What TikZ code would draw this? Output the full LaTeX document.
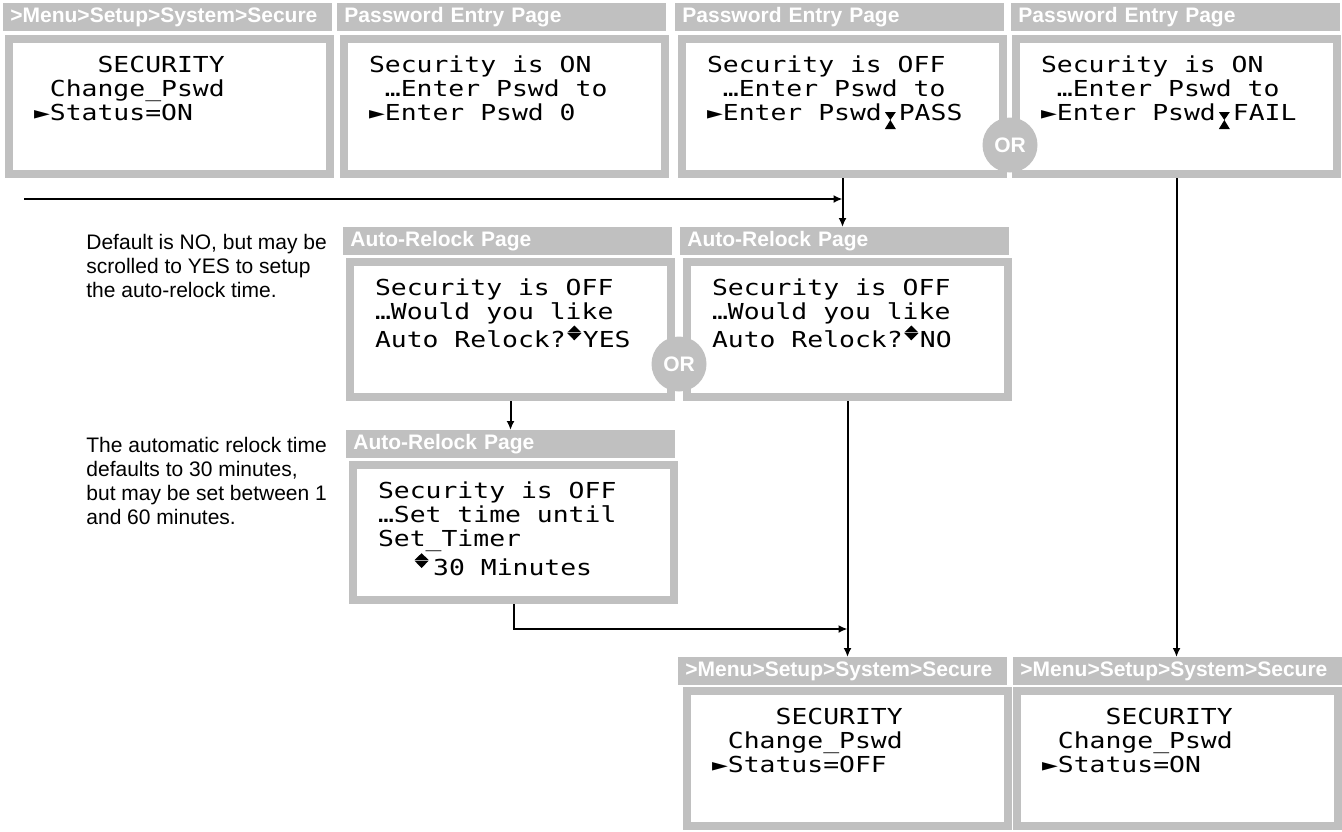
\documentclass[tikz,border=0pt]{standalone}
\usepackage{fontspec}
\setmainfont{Liberation Sans}
\newfontfamily\lcdfamily[FakeStretch=1.2]{DejaVu Sans Mono}
\usepackage{tikz}
\usetikzlibrary{positioning,arrows.meta,calc}
\definecolor{panelgray}{HTML}{C0C0C0}
\newcommand{\lcdfont}{\lcdfamily\fontsize{11pt}{12pt}\selectfont}
\newcommand{\hdrfont}{\bfseries\fontsize{10.5pt}{12pt}\selectfont}
\newcommand{\notefont}{\fontsize{10.5pt}{12pt}\selectfont}
\newcommand{\hourglass}{\hspace{1.5pt}\tikz[baseline=0pt]\fill[black] (0pt,4pt) -- (5.5pt,4pt) -- (2.75pt,0pt) -- cycle (2.75pt,0pt) -- (5.5pt,-4.5pt) -- (0pt,-4.5pt) -- cycle;\hspace{1.5pt}}
\newcommand{\updown}{\hspace{0.8pt}\tikz[baseline=0pt]\fill[black] (0pt,7.6pt) -- (7pt,7.6pt) -- (3.5pt,11pt) -- cycle (0pt,7.2pt) -- (7pt,7.2pt) -- (3.5pt,3.6pt) -- cycle;\hspace{0.8pt}}

\begin{document}
\begin{tikzpicture}[x=0.5pt, y=-0.5pt,
    pagehdr/.style={fill=panelgray, text=white, font=\hdrfont, anchor=north west, text width=157.5pt, align=left, inner xsep=3.5pt, inner ysep=0pt, minimum height=14pt},
    lcd/.style={draw=panelgray, line width=4pt, fill=white, anchor=north west, font=\lcdfont, text width=135.5pt, align=left, inner xsep=12.5pt, inner ysep=6pt, text height=10.5pt, text depth=45pt, execute at begin node={\spaceskip=7.95pt\relax}},
    orbadge/.style={circle, fill=panelgray, text=white, font=\hdrfont, minimum size=27.5pt, inner sep=0pt},
    sidenote/.style={anchor=north west, align=left, font=\notefont, inner sep=0pt},
    flow/.style={-{Latex[length=4.5pt,width=4pt]}, line width=1pt}]
    \useasboundingbox (0,0) rectangle (1342,831);

    % first row: password entry
    \node[pagehdr] (hdrA) at (3,3) {>Menu>Setup>System>Secure};
    \node[lcd] (scrA) at (5,35) {~~~~SECURITY\\~Change\_Pswd\\►Status=ON};
    \node[pagehdr] (hdrB) at (337,3) {Password Entry Page};
    \node[lcd] (scrB) at (340,35) {Security is ON\\~…Enter Pswd to\\►Enter Pswd 0};
    \node[pagehdr] (hdrC) at (675,3) {Password Entry Page};
    \node[lcd] (scrC) at (678,35) {Security is OFF\\~…Enter Pswd to\\►Enter Pswd\hourglass PASS};
    \node[pagehdr] (hdrD) at (1011,3) {Password Entry Page};
    \node[lcd] (scrD) at (1012,35) {Security is ON\\~…Enter Pswd to\\►Enter Pswd\hourglass FAIL};
    \node[orbadge] (orTop) at (1010,145) {OR};

    % second row: auto-relock choice
    \node[sidenote] (noteYes) at (86,234) {Default is NO, but may be\\scrolled to YES to setup\\the auto-relock time.};
    \node[pagehdr] (hdrYes) at (343,227) {Auto-Relock Page};
    \node[lcd] (relockYes) at (346,258) {Security is OFF\\…Would you like\\Auto Relock?\updown YES};
    \node[pagehdr] (hdrNo) at (680,227) {Auto-Relock Page};
    \node[lcd] (relockNo) at (683,258) {Security is OFF\\…Would you like\\Auto Relock?\updown NO};
    \node[orbadge] (orMid) at (679,364) {OR};

    % third row: timer
    \node[sidenote] (noteTimer) at (86,437) {The automatic relock time\\defaults to 30 minutes,\\but may be set between 1\\and 60 minutes.};
    \node[pagehdr] (hdrTimer) at (346,430) {Auto-Relock Page};
    \node[lcd] (timer) at (349,461) {Security is OFF\\…Set time until\\Set\_Timer\\\hspace{17.5pt}\updown\hspace{1.5pt}30 Minutes};

    % last row: result
    \node[pagehdr] (hdrOff) at (678,657) {>Menu>Setup>System>Secure};
    \node[lcd] (doneOff) at (683,687) {~~~~SECURITY\\~Change\_Pswd\\►Status=OFF};
    \node[pagehdr] (hdrOn) at (1013,657) {>Menu>Setup>System>Secure};
    \node[lcd] (doneOn) at (1013,687) {~~~~SECURITY\\~Change\_Pswd\\►Status=ON};

    \coordinate (entry) at (24,199);
    \draw[flow] (entry) -- (entry -| scrC.south);
    \draw[flow] (scrC.south) -- (scrC.south |- hdrNo.north);
    \draw[flow] (scrD.south) -- (scrD.south |- hdrOn.north);
    \draw[flow] (relockYes.south) -- (relockYes.south |- hdrTimer.north);
    \draw[flow] (relockNo.south) -- (relockNo.south |- hdrOff.north);
    \draw[flow] (timer.south) |- (relockNo.south |- 0,629);
\end{tikzpicture}
\end{document}
